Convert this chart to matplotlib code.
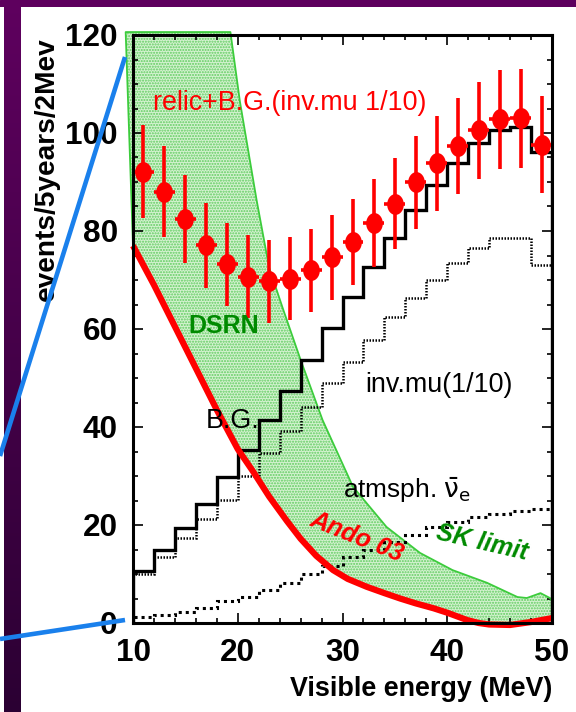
import numpy as np
import matplotlib

matplotlib.use("Agg")
import matplotlib.pyplot as plt
from matplotlib import font_manager
from matplotlib.lines import Line2D
from matplotlib.path import Path
from matplotlib.patches import Polygon

# --- data ------------------------------------------------------------------
edges = np.arange(10, 52, 2)
centers = np.arange(11, 50, 2)

bg_total = [10.7, 14.9, 19.3, 24.2, 29.7, 35.3, 41.4, 47.4, 53.7, 60.3,
            66.5, 72.7, 78.6, 84.3, 89.4, 93.9, 97.9, 100.6, 101.3, 96.2]
inv_mu = [10.0, 13.5, 17.3, 21.2, 25.1, 29.9, 34.6, 39.2, 44.1, 48.9,
          53.3, 57.8, 62.4, 66.3, 70.0, 73.5, 76.5, 78.5, 78.5, 73.1]
atm_nue = [1.3, 1.6, 2.3, 3.0, 4.4, 5.4, 6.7, 8.2, 10.0, 11.6,
           13.4, 14.9, 16.6, 18.0, 19.5, 20.7, 21.7, 22.3, 22.9, 23.2]

relic_bg = [92.1, 88.0, 82.4, 77.1, 73.2, 70.7, 69.7, 70.3, 72.0, 74.6,
            77.8, 81.6, 85.6, 89.9, 93.8, 97.3, 100.6, 102.8, 103.0, 97.6]
relic_err = [9.5, 9.3, 9.0, 8.7, 8.5, 8.4, 8.4, 8.4, 8.5, 8.7,
             8.8, 9.0, 9.2, 9.5, 9.7, 9.8, 9.9, 10.1, 10.1, 9.9]

ando_x = [10, 12, 14, 16, 18, 20, 21.5, 23, 24.7, 26, 27.5, 29.1, 30.5, 32.3,
          34, 35.5, 37, 38.7, 40, 41.9, 43, 44, 46, 48, 50]
ando_y = [77.0, 69.0, 60.5, 52.0, 43.5, 35.5, 30.8, 25.8, 20.8, 17.2, 13.7,
          10.8, 9.0, 7.4, 6.1, 5.0, 4.0, 3.0, 2.1, 0.6, 0.0, -0.3, -0.4,
          0.2, 1.0]

sk_x = [19.3, 20.2, 21.8, 23.0, 24.35, 26.0, 28.1, 31.0, 34.2, 37.4, 40.5,
        43.8, 46.7, 47.6, 48.9, 49.8, 50.0]
sk_y = [120.6, 106.5, 86.3, 72.5, 63.9, 53.7, 41.4, 27.8, 19.6, 14.3, 10.8,
        8.2, 5.3, 5.1, 6.1, 5.1, 4.5]
sk_corner = (9.3, 120.6)  # top-left corner of the DSRN band, drawn past the frame

# --- fonts -----------------------------------------------------------------
installed = {f.name for f in font_manager.fontManager.ttflist}
NARROW = "Liberation Sans Narrow" if "Liberation Sans Narrow" in installed else "Liberation Sans"
k = 1.0 if NARROW == "Liberation Sans Narrow" else 0.84
WIDE = "Liberation Sans"

RED = "#ff0000"
GREEN_LINE = "#3ccc3c"
GREEN_TXT = "#008a00"

W, H = 576, 712
fig = plt.figure(figsize=(W / 100, H / 100), dpi=100)
fig.patch.set_facecolor("white")


def px(x, y):
    """pixel position in the reference -> figure fraction"""
    return x / W, 1 - y / H


# purple slide frame
band = fig.add_axes([0, 1 - 7 / H, 1, 7 / H])
band.set_axis_off()
band.add_patch(plt.Rectangle((0, 0), 1, 1, color="#5e005e", transform=band.transAxes))
strip = fig.add_axes([4 / W, 0, 17 / W, 1 - 7 / H])
strip.set_axis_off()
grad = np.linspace(0, 1, 256).reshape(-1, 1)
top_c = np.array([0.37, 0.0, 0.37])
bot_c = np.array([0.17, 0.0, 0.20])
img = top_c + (bot_c - top_c) * grad[..., None]
strip.imshow(img, aspect="auto", extent=(0, 1, 0, 1))

ax = fig.add_axes([133 / W, 1 - 623 / H, 419 / W, 588 / H])
ax.set_xlim(10, 50)
ax.set_ylim(0, 120)

# DSRN band between Ando 03 and the SK limit
band_x = [sk_corner[0]] + sk_x + ando_x[::-1]
band_y = [sk_corner[1]] + sk_y + ando_y[::-1]
ax.add_patch(Polygon(np.column_stack([band_x, band_y]), closed=True,
                     facecolor="#d4f2d0", edgecolor="#5fcc5f", hatch="......",
                     linewidth=0, zorder=1, clip_on=False))
outline_x = [ando_x[0], sk_corner[0]] + sk_x + [50.0]
outline_y = [ando_y[0], sk_corner[1]] + sk_y + [ando_y[-1]]
ax.plot(outline_x, outline_y, color=GREEN_LINE, lw=1.3, zorder=2, clip_on=False)

ax.stairs(atm_nue, edges, color="black", lw=2.2, ls=(0, (1, 1.3)), zorder=3)
ax.stairs(inv_mu, edges, color="black", lw=1.8, ls=(0, (0.6, 0.6)), zorder=3)
ax.stairs(bg_total, edges, color="black", lw=2.4, zorder=3)

ax.plot(ando_x, ando_y, color=RED, lw=4.5, zorder=4, clip_on=False,
        solid_capstyle="butt", solid_joinstyle="round")

t = np.linspace(0, 2 * np.pi, 40)
ellipse = Path(np.column_stack([0.8 * np.cos(t), np.sin(t)]), closed=True)
ax.errorbar(centers, relic_bg, yerr=relic_err, xerr=1.0, fmt="none",
            ecolor=RED, elinewidth=2.6, capsize=0, zorder=5)
ax.plot(centers, relic_bg, ls="none", marker=ellipse, ms=15, color=RED,
        markeredgewidth=0, zorder=6)

# labels inside the frame
def dxy(xp, yp):
    return 10 + (xp - 133) / 10.475, (623 - yp) / 4.9


ax.text(*dxy(153, 110), "relic+B.G.(inv.mu 1/10)", color=RED, family=NARROW,
        fontsize=23 * k, ha="left", va="baseline", zorder=7)
ax.text(*dxy(188, 333), "DSRN", color=GREEN_TXT, family=WIDE, weight="bold",
        fontsize=18, ha="left", va="baseline", zorder=7)
ax.text(*dxy(206, 428), "B.G.", color="black", family=NARROW, fontsize=23 * k,
        ha="left", va="baseline", zorder=7)
ax.text(*dxy(365, 392), "inv.mu(1/10)", color="black", family=NARROW,
        fontsize=23 * k, ha="left", va="baseline", zorder=7)
ax.text(*dxy(343, 498), r"atmsph. $\bar{\mathrm{\nu}}_{\mathrm{e}}$",
        color="black", family=NARROW, fontsize=22.5 * k, ha="left",
        va="baseline", zorder=7, math_fontfamily="dejavusans")
ax.text(*dxy(357, 537), "Ando 03", color=RED, family=WIDE, weight="bold",
        style="italic", fontsize=18, rotation=-22, ha="center", va="center",
        rotation_mode="anchor", zorder=7)
ax.text(*dxy(482, 543), "SK limit", color=GREEN_TXT, family=WIDE, weight="bold",
        style="italic", fontsize=18, rotation=-13, ha="center", va="center",
        rotation_mode="anchor", zorder=7)

# frame, ticks
for s in ax.spines.values():
    s.set_linewidth(2.2)
    s.set_zorder(8)
ax.set_xticks([10, 20, 30, 40, 50])
ax.set_xticks(np.arange(10, 51, 2), minor=True)
ax.set_yticks(np.arange(0, 121, 20))
ax.set_yticks(np.arange(0, 121, 5), minor=True)
ax.tick_params(which="both", direction="in", top=True, right=True, width=1.2)
ax.tick_params(which="major", length=7)
ax.tick_params(which="minor", length=3.5)
ax.tick_params(axis="x", which="major", pad=11)
ax.tick_params(axis="y", which="major", pad=11)
for lab in ax.get_xticklabels() + ax.get_yticklabels():
    lab.set_family(NARROW)
    lab.set_fontweight("bold")
    lab.set_fontsize(27 * k)

ax.set_xlabel("Visible energy (MeV)", family=NARROW, weight="bold",
              fontsize=23 * k, ha="right", va="top")
ax.xaxis.set_label_coords(1.0, (623 - 676) / 588)
ax.set_ylabel("events/5years/2Mev", family=NARROW, weight="bold",
              fontsize=24 * k, ha="right", va="bottom")
ax.yaxis.set_label_coords((60 - 133) / 419, (623 - 37) / 588)

# blue callout lines from the slide
for (x0, y0), (x1, y1) in [((0, 456), (125, 57)), ((0, 639), (125, 620))]:
    fx0, fy0 = px(x0, y0)
    fx1, fy1 = px(x1, y1)
    fig.add_artist(Line2D([fx0, fx1], [fy0, fy1], color="#1a80ec", lw=3.3,
                          transform=fig.transFigure, zorder=20,
                          solid_capstyle="butt"))

fig.savefig("out.png", dpi=100)
